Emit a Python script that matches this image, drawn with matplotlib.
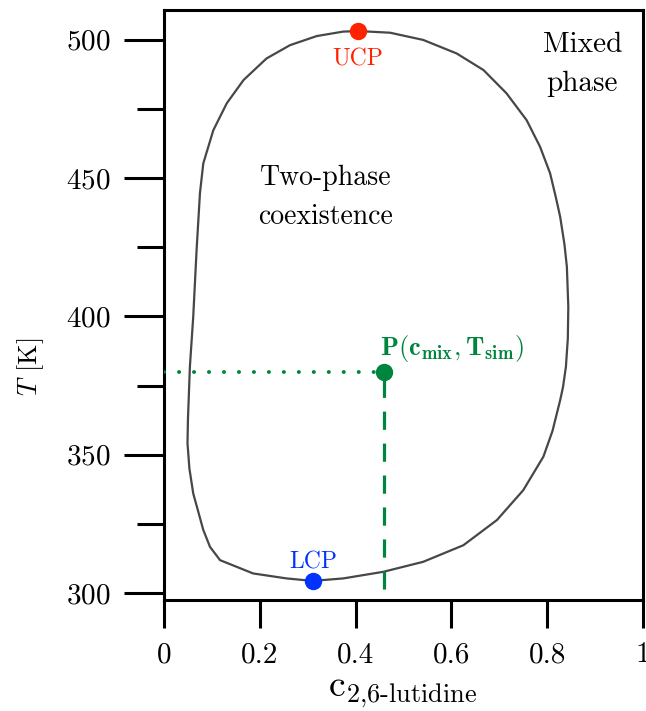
import matplotlib
matplotlib.use("Agg")
import matplotlib.pyplot as plt

plt.rcParams['font.family'] = 'cmr10'
plt.rcParams['mathtext.fontset'] = 'cm'
plt.rcParams['axes.formatter.use_mathtext'] = True

# binodal curve, traced clockwise from the upper critical point
binodal_c = [0.406, 0.472, 0.541, 0.611, 0.667, 0.715, 0.757, 0.785, 0.806,
             0.818, 0.827, 0.836, 0.841, 0.844, 0.843, 0.839, 0.833, 0.827,
             0.811, 0.792, 0.750, 0.695, 0.625, 0.541, 0.458, 0.374, 0.310,
             0.256, 0.186, 0.117, 0.096, 0.082, 0.061, 0.053, 0.049, 0.050,
             0.054, 0.061, 0.068, 0.075, 0.082, 0.103, 0.131, 0.166, 0.214,
             0.263, 0.319, 0.374, 0.406]
binodal_T = [503.1, 502.5, 499.9, 495.0, 489.0, 480.6, 470.9, 461.3, 451.7,
             443.0, 436.0, 426.0, 417.9, 403.5, 392.0, 381.8, 374.5, 369.7,
             358.6, 349.3, 337.2, 326.4, 317.3, 311.3, 307.7, 305.3, 304.4,
             305.3, 307.1, 311.9, 316.7, 322.8, 336.0, 345.0, 354.2, 363.0,
             381.8, 399.9, 424.0, 444.5, 455.3, 467.3, 477.0, 485.4, 493.2,
             498.0, 501.3, 502.9, 503.1]

ucp = (0.406, 503.1)
lcp = (0.310, 304.4)
p_mix = (0.46, 380.0)

x_ticks = [0, 0.2, 0.4, 0.6, 0.8, 1]
x_labels = ['0', '0.2', '0.4', '0.6', '0.8', '1']
y_ticks = [300, 350, 400, 450, 500]
y_minor = [325, 375, 425, 475]

green = '#00853f'

fig = plt.figure(figsize=(6.46, 7.11), dpi=100)
ax = fig.add_axes([0.2539, 0.1561, 0.7415, 0.8298])

ax.plot(binodal_c, binodal_T, color='#474747', lw=1.6, zorder=2,
        solid_joinstyle='round')

# simulation state point and guide lines
ax.plot([0, p_mix[0]], [p_mix[1], p_mix[1]], color=green, lw=2.8,
        linestyle=(0, (0.05, 3.8)), dash_capstyle='round', zorder=3)
ax.plot([p_mix[0], p_mix[0]], [290, p_mix[1]], color=green, lw=2.3,
        linestyle=(0, (5.7, 4.3)), zorder=3)
ax.plot(*p_mix, 'o', color=green, ms=11.5, zorder=4)
ax.text(0.451, 386.0, r'$\mathbf{P(c_{mix},T_{sim})}$', color=green,
        fontsize=19, ha='left', va='baseline')

ax.plot(*ucp, 'o', color='#ff2200', ms=11.5, zorder=4)
ax.text(0.405, 493.0, 'UCP', color='#ff2200', fontsize=17,
        ha='center', va='center')
ax.plot(*lcp, 'o', color='#0033ff', ms=11.5, zorder=4)
ax.text(0.311, 311.0, 'LCP', color='#0033ff', fontsize=17,
        ha='center', va='center')

ax.text(0.338, 443.0, 'Two-phase\ncoexistence', fontsize=20,
        ha='center', va='center', linespacing=1.6)
ax.text(0.873, 491.0, 'Mixed\nphase', fontsize=21,
        ha='center', va='center', linespacing=1.6)

ax.set_xlim(0, 1)
ax.set_ylim(297.5, 510.7)
ax.set_xticks(x_ticks)
ax.set_xticklabels(x_labels)
ax.set_yticks(y_ticks)
ax.set_yticks(y_minor, minor=True)
ax.tick_params(axis='x', which='major', length=20, width=2.2,
               labelsize=21, pad=10)
ax.tick_params(axis='y', which='major', length=28.8, width=2.2,
               labelsize=21, pad=10)
ax.tick_params(axis='y', which='minor', length=19.4, width=2.2)
for s in ax.spines.values():
    s.set_linewidth(2.2)

ax.set_xlabel(r'$\mathrm{c}_{\text{2,6-lutidine}}$', fontsize=27)
ax.xaxis.label.set_va('baseline')
ax.xaxis.set_label_coords(0.499, -0.164)
ax.set_ylabel(r'$T$ [K]', fontsize=19)
ax.yaxis.set_label_coords(-0.247, 0.395)

fig.savefig('out.png', dpi=100)
